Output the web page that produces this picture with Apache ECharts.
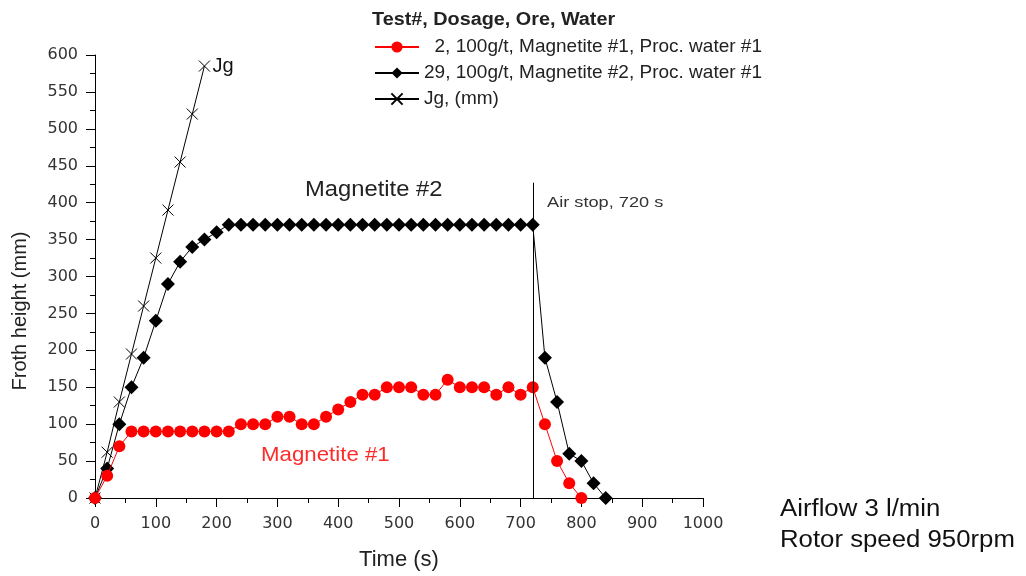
<!DOCTYPE html>
<html>
<head>
<meta charset="utf-8">
<title>Froth height</title>
<script src="https://cdn.jsdelivr.net/npm/echarts@6/dist/echarts.min.js"></script>
<style>
html, body { margin: 0; padding: 0; background: #fff; }
#chart { width: 1026px; height: 576px; }
</style>
</head>
<body>
<div id="chart"></div>
<script>
//-------------------数据--------------
var redTimes = [0, 20, 40, 60, 80, 100, 120, 140, 160, 180, 200, 220, 240, 260, 280, 300, 320, 340, 360, 380,
  400, 420, 440, 460, 480, 500, 520, 540, 560, 580, 600, 620, 640, 660, 680, 700, 720, 740, 760, 780, 800];
var redValues = [0, 30, 70, 90, 90, 90, 90, 90, 90, 90, 90, 90, 100, 100, 100, 110, 110, 100, 100, 110,
  120, 130, 140, 140, 150, 150, 150, 140, 140, 160, 150, 150, 150, 140, 150, 140, 150, 100, 50, 20, 0];

var blackTimes = [0, 20, 40, 60, 80, 100, 120, 140, 160, 180, 200, 220, 240, 260, 280, 300, 320, 340, 360, 380,
  400, 420, 440, 460, 480, 500, 520, 540, 560, 580, 600, 620, 640, 660, 680, 700, 720, 740, 760, 780, 800, 820, 840];
var blackValues = [0, 40, 100, 150, 190, 240, 290, 320, 340, 350, 360, 370, 370, 370, 370, 370, 370, 370, 370, 370,
  370, 370, 370, 370, 370, 370, 370, 370, 370, 370, 370, 370, 370, 370, 370, 370, 370, 190, 130, 60, 50, 20, 0];

var jgTimes = [0, 20, 40, 60, 80, 100, 120, 140, 160, 180];
var jgValues = [0, 62, 130, 195, 260, 325, 390, 455, 520, 585];

var seriesNames = ['  2, 100g/t, Magnetite #1, Proc. water #1', '29, 100g/t, Magnetite #2, Proc. water #1', 'Jg, (mm)'];
var airStop = [720, 427];

//-------------------处理逻辑------------------
function pairs(xs, ys) {
  var out = [];
  for (var i = 0; i < xs.length; i++) {
    out.push([xs[i], ys[i]]);
  }
  return out;
}

var jgData = pairs(jgTimes, jgValues);
var last = jgData.length - 1;
jgData[last] = {
  value: jgData[last],
  label: { show: true, position: 'right', distance: 2, formatter: 'Jg', fontSize: 20, color: '#111', fontFamily: 'Liberation Sans' }
};

var font = 'Liberation Sans';
var tickFont = 'DejaVu Sans';

//-------------------配置--------------
var option = {
  animation: false,
  backgroundColor: '#fff',
  grid: { left: 95, right: 323, top: 55, bottom: 78 },
  legend: {
    orient: 'vertical',
    left: 369,
    top: 32,
    itemWidth: 44,
    itemHeight: 14,
    itemGap: 6,
    data: seriesNames,
    textStyle: { fontSize: 19, lineHeight: 20, color: '#222', fontFamily: font }
  },
  xAxis: {
    type: 'value',
    min: 0,
    max: 1000,
    interval: 100,
    name: 'Time (s)',
    nameLocation: 'middle',
    nameGap: 51,
    nameTextStyle: { fontSize: 22, color: '#222', fontFamily: font },
    axisLine: { show: true, lineStyle: { color: '#000', width: 1 } },
    axisTick: { show: true, inside: false, length: 9, lineStyle: { color: '#000' } },
    minorTick: { show: true, splitNumber: 2, length: 5, lineStyle: { color: '#000' } },
    splitLine: { show: false },
    axisLabel: { margin: 18, fontSize: 16, color: '#333', fontFamily: tickFont, formatter: function (v) { return String(v); } }
  },
  yAxis: {
    type: 'value',
    min: 0,
    max: 600,
    interval: 50,
    axisLine: { show: true, lineStyle: { color: '#000', width: 1 } },
    axisTick: { show: true, inside: false, length: 9, lineStyle: { color: '#000' } },
    minorTick: { show: true, splitNumber: 2, length: 5, lineStyle: { color: '#000' } },
    splitLine: { show: false },
    axisLabel: { margin: 17, fontSize: 16, color: '#333', fontFamily: tickFont }
  },
  series: [
    {
      name: seriesNames[0],
      type: 'line',
      data: pairs(redTimes, redValues),
      symbol: 'circle',
      symbolSize: 12,
      itemStyle: { color: '#ff0000' },
      lineStyle: { color: '#ff0000', width: 1 },
      z: 4
    },
    {
      name: seriesNames[1],
      type: 'line',
      data: pairs(blackTimes, blackValues),
      symbol: 'diamond',
      symbolSize: 14,
      itemStyle: { color: '#000' },
      lineStyle: { color: '#000', width: 1 },
      z: 3,
      markLine: {
        silent: true,
        symbol: ['none', 'none'],
        label: { show: false },
        lineStyle: { color: '#000', width: 1, type: 'solid' },
        data: [[{ coord: [airStop[0], 0] }, { coord: [airStop[0], airStop[1]] }]]
      }
    },
    {
      name: seriesNames[2],
      type: 'line',
      data: jgData,
      symbol: 'path://M0,0L10,10M0,10L10,0',
      symbolSize: 11,
      itemStyle: { color: 'rgba(0,0,0,0)', borderColor: '#000', borderWidth: 1 },
      lineStyle: { color: '#000', width: 1 },
      z: 2
    }
  ],
  graphic: [
    {
      type: 'text', x: 372, y: 20, scaleX: 1.1,
      style: { text: 'Test#, Dosage, Ore, Water', fontSize: 18, fontWeight: 'bold', fill: '#222', fontFamily: font, align: 'left', verticalAlign: 'middle' }
    },
    {
      type: 'text', x: 305, y: 190, scaleX: 1.08,
      style: { text: 'Magnetite #2', fontSize: 22, fill: '#222', fontFamily: font, align: 'left', verticalAlign: 'middle' }
    },
    {
      type: 'text', x: 261, y: 455, scaleX: 1.06,
      style: { text: 'Magnetite #1', fontSize: 21, fill: '#ff2a2a', fontFamily: font, align: 'left', verticalAlign: 'middle' }
    },
    {
      type: 'text', x: 547, y: 203, scaleX: 1.3,
      style: { text: 'Air stop, 720 s', fontSize: 14, fill: '#333', fontFamily: font, align: 'left', verticalAlign: 'middle' }
    },
    {
      type: 'text', x: 20, y: 311, rotation: Math.PI / 2,
      style: { text: 'Froth height (mm)', fontSize: 20, fill: '#222', fontFamily: font, align: 'center', verticalAlign: 'middle' }
    },
    {
      type: 'text', x: 780, y: 510, scaleX: 1.12,
      style: { text: 'Airflow 3 l/min', fontSize: 23, fill: '#111', fontFamily: font, align: 'left', verticalAlign: 'middle' }
    },
    {
      type: 'text', x: 780, y: 541, scaleX: 1.12,
      style: { text: 'Rotor speed 950rpm', fontSize: 23, fill: '#111', fontFamily: font, align: 'left', verticalAlign: 'middle' }
    }
  ]
};

echarts.init(document.getElementById('chart')).setOption(option);
</script>
</body>
</html>
